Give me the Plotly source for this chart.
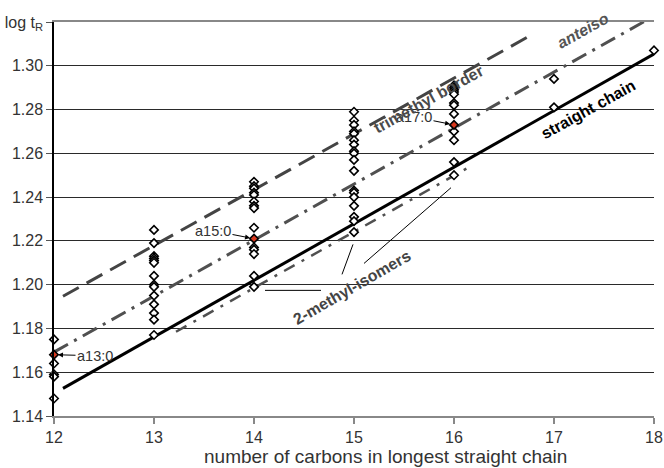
import plotly.graph_objects as go

# ---- data ----
carbons_12 = [1.175, 1.164, 1.159, 1.158, 1.148]
carbons_13 = [1.225, 1.219, 1.213, 1.212, 1.211, 1.210, 1.204, 1.200, 1.199, 1.195, 1.191, 1.187, 1.184, 1.177]
carbons_14 = [1.247, 1.245, 1.244, 1.242, 1.241, 1.238, 1.236, 1.235, 1.226, 1.217, 1.216, 1.214, 1.204, 1.199]
carbons_15 = [1.279, 1.275, 1.273, 1.270, 1.269, 1.266, 1.264, 1.261, 1.260, 1.257, 1.252, 1.243, 1.242, 1.240, 1.236, 1.231, 1.229, 1.224]
carbons_16 = [1.291, 1.290, 1.289, 1.288, 1.287, 1.283, 1.282, 1.278, 1.270, 1.266, 1.256, 1.250]
carbons_17 = [1.294, 1.281]
carbons_18 = [1.307]

anteiso_names = ["a13:0", "a15:0", "a17:0"]
anteiso_x = [12, 14, 16]
anteiso_y = [1.168, 1.221, 1.273]

straight_x = [12.09, 18.09]
straight_y = [1.1526, 1.3077]
anteiso_line_x = [12.0, 18.0]
anteiso_line_y = [1.1692, 1.3227]
trimethyl_x = [12.09, 16.79]
trimethyl_y = [1.1947, 1.3145]
methyl2_x = [13.22, 16.14]
methyl2_y = [1.1785, 1.2534]

# leader lines for the "2-methyl-isomers" label
leader1_x = [14.11, 14.67]; leader1_y = [1.1974, 1.1974]
leader2_x = [14.88, 14.99]; leader2_y = [1.2047, 1.2184]
leader3_x = [15.10, 15.97]; leader3_y = [1.2097, 1.2443]

y_ticks = [1.14, 1.16, 1.18, 1.20, 1.22, 1.24, 1.26, 1.28, 1.30, 1.32]
y_ticktext = ["1.14", "1.16", "1.18", "1.20", "1.22", "1.24", "1.26", "1.28", "1.30", "log t<sub>R</sub>"]
x_ticks = [12, 13, 14, 15, 16, 17, 18]
x_title = "number of carbons in longest straight chain"

FONT = "Liberation Sans, Arial, sans-serif"

fig = go.Figure()

# fitted lines
fig.add_trace(go.Scatter(x=trimethyl_x, y=trimethyl_y, mode="lines",
                         line=dict(color="#444444", width=3, dash="18px,9px"), hoverinfo="skip"))
fig.add_trace(go.Scatter(x=anteiso_line_x, y=anteiso_line_y, mode="lines",
                         line=dict(color="#505050", width=3, dash="16px,7px,3px,7px"), hoverinfo="skip"))
fig.add_trace(go.Scatter(x=methyl2_x, y=methyl2_y, mode="lines",
                         line=dict(color="#505050", width=2.5, dash="12px,8px,3px,8px"), hoverinfo="skip"))
fig.add_trace(go.Scatter(x=straight_x, y=straight_y, mode="lines",
                         line=dict(color="#000000", width=3), hoverinfo="skip"))

# leader lines
for lx, ly in [(leader1_x, leader1_y), (leader2_x, leader2_y), (leader3_x, leader3_y)]:
    fig.add_trace(go.Scatter(x=lx, y=ly, mode="lines", line=dict(color="#000000", width=1), hoverinfo="skip"))

# points
groups = [(12, carbons_12), (13, carbons_13), (14, carbons_14), (15, carbons_15),
          (16, carbons_16), (17, carbons_17), (18, carbons_18)]
px, py = [], []
for c, vals in groups:
    px += [c] * len(vals)
    py += vals
fig.add_trace(go.Scatter(x=px, y=py, mode="markers", cliponaxis=False,
                         marker=dict(symbol="diamond", size=6.5, color="white",
                                     line=dict(color="black", width=1.6))))
fig.add_trace(go.Scatter(x=anteiso_x, y=anteiso_y, mode="markers", cliponaxis=False,
                         marker=dict(symbol="diamond", size=6.5, color="#d9381e",
                                     line=dict(color="black", width=1.6))))

# annotations for anteiso points
offsets = [(41, 1), (-41, -8), (-40, -8)]
for name, x, y, (ax, ay) in zip(anteiso_names, anteiso_x, anteiso_y, offsets):
    fig.add_annotation(x=x, y=y, text=name, showarrow=True, ax=ax, ay=ay,
                       arrowhead=2, arrowsize=1, arrowwidth=1, arrowcolor="black",
                       standoff=4, font=dict(family=FONT, size=14.5, color="#333333"))

# line labels
fig.add_annotation(x=15.74, y=1.2848, text="<b>trimethyl border</b>", showarrow=False, textangle=-29,
                   font=dict(family=FONT, size=16, color="#4a4a4a"))
fig.add_annotation(x=17.29, y=1.3159, text="<b><i>anteiso</i></b>", showarrow=False, textangle=-29,
                   font=dict(family=FONT, size=16, color="#555555"))
fig.add_annotation(x=17.34, y=1.2798, text="<b>straight chain</b>", showarrow=False, textangle=-29,
                   font=dict(family=FONT, size=16, color="#000000"))
fig.add_annotation(x=14.98, y=1.1985, text="<b>2-methyl-isomers</b>", showarrow=False, textangle=-30,
                   font=dict(family=FONT, size=16, color="#444444"))

# x-axis title (offset to the right as in the reference)
fig.add_annotation(xref="paper", yref="paper", x=0.553, y=-0.104, yanchor="middle",
                   text=x_title, showarrow=False,
                   font=dict(family=FONT, size=19, color="#333333"))

fig.update_layout(
    width=664, height=468,
    margin=dict(l=54, r=10, t=22, b=52),
    paper_bgcolor="white", plot_bgcolor="white",
    showlegend=False,
    font=dict(family=FONT, size=16, color="#333333"),
    xaxis=dict(range=[12, 18], tickvals=x_ticks, showgrid=False, zeroline=False,
               showline=True, linecolor="#888888", linewidth=2, mirror=True,
               ticks="outside", ticklen=6, tickcolor="#888888", tickwidth=1.5,
               tickfont=dict(size=16, color="#333333"), automargin=False),
    yaxis=dict(range=[1.14, 1.32], tickvals=y_ticks, ticktext=y_ticktext,
               showgrid=True, gridcolor="#2a2a2a", gridwidth=1, zeroline=False,
               showline=True, linecolor="black", linewidth=1.5, automargin=False,
               ticks="outside", ticklen=6, tickcolor="#555555",
               tickfont=dict(size=16, color="#333333")),
)

fig.write_html("out.html")
